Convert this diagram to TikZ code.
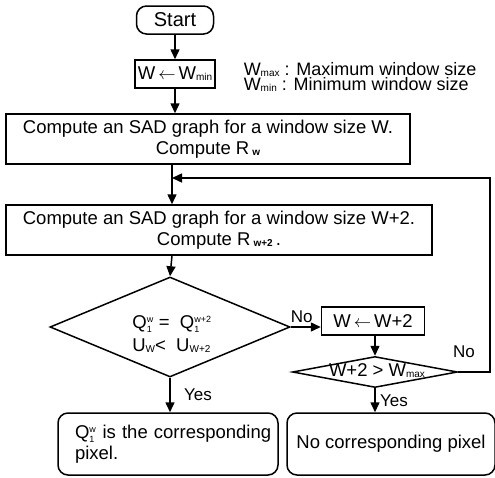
\documentclass[tikz,border=0pt]{standalone}
\usepackage{amsmath}
\usepackage{fontspec}
\setmainfont{Liberation Sans}
\usetikzlibrary{arrows.meta,shapes.geometric,calc}
\tikzset{
  procbox/.style = {draw, rectangle, inner sep=0pt, align=center},
  termbox/.style = {draw, rectangle, rounded corners=10pt, inner sep=0pt},
  decision/.style = {draw, diamond, inner sep=0pt, align=center},
  flow/.style = {-{Triangle[length=10pt,width=9pt]}},
  branch/.style = {font=\fontsize{17}{19}\selectfont},
}
\newcommand{\subtxt}[1]{\raisebox{-1pt}{\fontsize{10}{11}\selectfont #1}}
\newcommand{\Qw}{Q$^{\text{\fontsize{9}{10}\selectfont w}}_{\text{\fontsize{9}{10}\selectfont 1}}$}
\newcommand{\Qwt}{Q$^{\text{\fontsize{9}{10}\selectfont w+2}}_{\text{\fontsize{9}{10}\selectfont 1}}$}

\begin{document}
\begin{tikzpicture}[x=1pt,y=-1pt,line width=1.5pt,
  every node/.style={font=\fontsize{18.5}{21}\selectfont}]
\useasboundingbox (0,0) rectangle (495,477);

% start and initial size
\node[termbox, minimum width=77pt, minimum height=28pt, font=\fontsize{20}{22}\selectfont] (start) at (175,20) {Start};
\node[procbox, minimum width=80pt, minimum height=28pt] (init) at (175,74) {W\,$\leftarrow$\,W\subtxt{min}};

% legend
\node[anchor=west, align=left, inner sep=0pt, font=\fontsize{18}{15}\selectfont] (legend) at (243,77)
  {W\subtxt{max} : Maximum window size\\W\subtxt{min} : Minimum window size};

% SAD graphs
\node[procbox, minimum width=404pt, minimum height=50pt] (sadw) at (208,139)
  {Compute an SAD graph for a window size W.\\Compute R\,\subtxt{\textbf{w}}};
\coordinate (merge) at (172,178);
\node[procbox, minimum width=426pt, minimum height=50pt] (sadwt) at (219,230)
  {Compute an SAD graph for a window size W+2.\\Compute R\,\subtxt{\textbf{w+2}}\,.};

% decisions
\node[decision, minimum width=240pt, minimum height=100pt] (cmp) at (170,327) {};
\node[align=left] (cmptxt) at (172,334)
  {\Qw\ = \ \Qwt\\[2pt]U\subtxt{W}< \ U\subtxt{W+2}};
\node[procbox, minimum width=103pt, minimum height=28pt] (incr) at (373,321) {W\,$\leftarrow$\,W+2};
\node[decision, aspect=5.3, minimum width=165pt, minimum height=31pt] (lim) at (375,372) {};
\node (limtxt) at (377,371) {W+2 > W\subtxt{max}};
\coordinate (back) at (490,372);

% results
\node[termbox, minimum width=220pt, minimum height=62pt, align=left,
  text width=186pt] (found) at (168,444) {\mbox{\Qw\ is the corresponding}\\pixel.};
\node[termbox, minimum width=208pt, minimum height=62pt] (none) at (391,444)
  {No corresponding pixel};

% connectors
\draw[flow] (start) -- (init);
\draw[flow] (init.south) -- (init.south |- sadw.north);
\draw (merge |- sadw.south) -- (merge);
\draw[flow] (merge) -- (merge |- sadwt.north);
\draw[flow] (merge |- sadwt.south) -- (cmp.north);
\draw[flow] (cmp.east) -- (cmp.east -| incr.west) node[branch, midway, above, xshift=-4pt] {No};
\draw[flow] (incr.south -| lim.north) -- (lim.north);
\draw[flow] (lim.east) -- (back) -- (back |- merge) -- (merge);
\node[branch] (nolab) at (464,352) {No};
\draw[flow] (cmp.south) -- (found.north -| cmp.south) node[branch, midway, right, xshift=10pt] {Yes};
\draw[flow] (lim.south) -- (lim.south |- none.north) node[branch, midway, right, xshift=1pt] {Yes};

\end{tikzpicture}
\end{document}
